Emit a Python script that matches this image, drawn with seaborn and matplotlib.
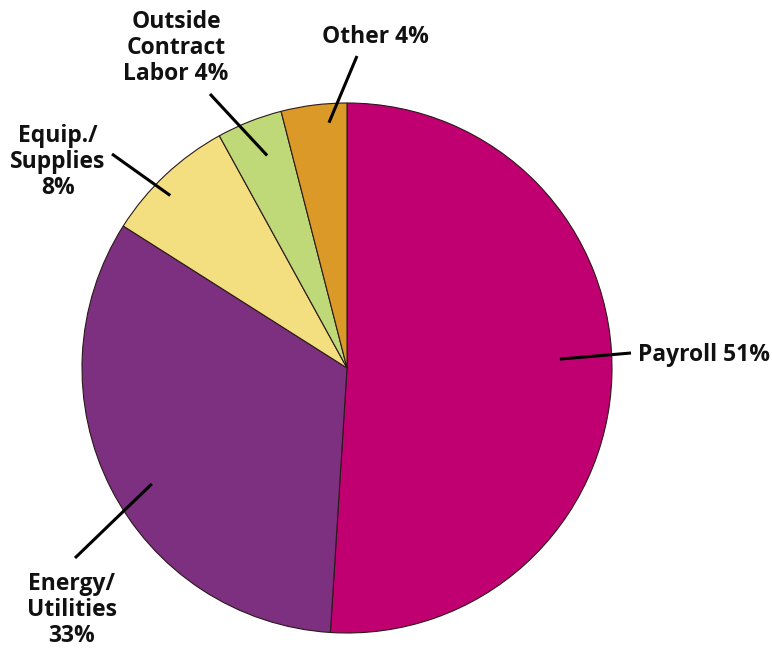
import numpy as np
import matplotlib
matplotlib.use("Agg")
import matplotlib.pyplot as plt
import seaborn as sns

# ---- data ----
categories = ["Payroll", "Energy/\nUtilities", "Equip./\nSupplies", "Outside\nContract\nLabor", "Other"]
shares = [51, 33, 8, 4, 4]
label_texts = ["Payroll 51%", "Energy/\nUtilities\n33%", "Equip./\nSupplies\n8%",
               "Outside\nContract\nLabor 4%", "Other 4%"]
colors = ["#C00070", "#7D2F80", "#F3DF80", "#BFD878", "#DB9A28"]

# ---- layout (pixel coords of 772x649 canvas, y downward) ----
W, H = 772, 649
cx, cy, R = 347, 368, 265
# leader line: (angle offset from wedge middle in deg, inner radius) -> outer pixel point
leader_inner = [(4.2, 213), (3.7, 227), (2.5, 247), (-1.0, 227), (-3.0, 246)]
leader_outer = [(631, 353), (75, 558), (112, 154), (210, 94), (357, 56)]
text_pos = [(638, 355), (72, 610), (58, 162), (176, 48), (375, 37)]
text_ha = ["left", "center", "center", "center", "center"]

sns.set_theme(style="white")
plt.rcParams['font.family'] = ['Open Sans', 'DejaVu Sans']

fig = plt.figure(figsize=(W / 100, H / 100), dpi=100)
ax = fig.add_axes([0, 0, 1, 1])

wedges, _ = ax.pie(shares, colors=colors, startangle=90, counterclock=False,
                   center=(cx, H - cy), radius=R,
                   wedgeprops=dict(edgecolor="#2a1a1a", linewidth=0.8))
ax.set_xlim(0, W)
ax.set_ylim(0, H)
ax.set_aspect('equal')
ax.axis('off')

for w, (doff, rin), (ox, oy), (tx, ty), ha, txt in zip(
        wedges, leader_inner, leader_outer, text_pos, text_ha, label_texts):
    mid = np.deg2rad((w.theta1 + w.theta2) / 2 + doff)
    ix = cx + rin * np.cos(mid)
    iy = (H - cy) + rin * np.sin(mid)
    ax.plot([ix, ox], [iy, H - oy], color="black", lw=2.2, solid_capstyle="butt")
    ax.text(tx, H - ty, txt, ha=ha, va="center", fontsize=16.5, fontweight="bold",
            linespacing=1.12, color="#111111")

fig.savefig("out.png", dpi=100)
